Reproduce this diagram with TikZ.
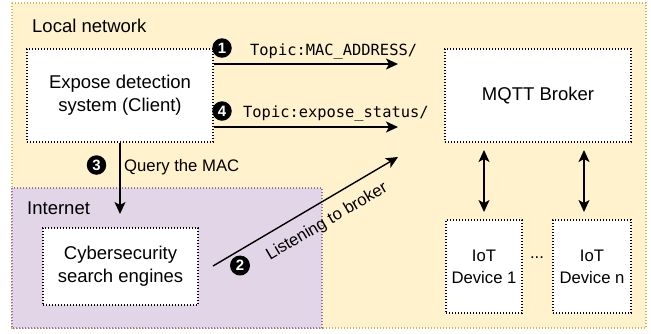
\documentclass[tikz,border=0pt]{standalone}
\usepackage{fontspec}
\setmainfont{Liberation Sans}
\setmonofont{DejaVu Sans Mono}
\usetikzlibrary{arrows.meta,calc}
\definecolor{locfill}{HTML}{FFF2CC}
\definecolor{locdraw}{HTML}{D6B656}
\definecolor{netfill}{HTML}{E1D5E7}
\definecolor{netdraw}{HTML}{9673A6}
\tikzset{
  dotline/.style={line width=1.3pt, dash pattern=on 1.4pt off 1.6pt},
  boxnode/.style={draw=black, fill=white, dotline, align=center, inner sep=0pt,
    font=\fontsize{18.5}{23}\selectfont},
  smallbox/.style={boxnode, font=\fontsize{16.7}{22}\selectfont},
  lbl/.style={inner sep=0pt, anchor=base west},
  arr/.style={line width=1.4pt, -{Stealth[length=12pt, width=11pt, inset=3pt]}},
  darr/.style={line width=1.4pt, {Stealth[length=12pt, width=11pt, inset=3pt]}-{Stealth[length=12pt, width=11pt, inset=3pt]}},
  num/.style={circle, fill=black, text=white, inner sep=0pt, minimum size=19.5pt,
    font=\fontsize{15}{15}\selectfont\bfseries},
  mono/.style={lbl, font=\fontsize{15.4}{18}\ttfamily},
}
\begin{document}
\begin{tikzpicture}[x=1pt, y=-1pt]
\useasboundingbox (0,0) rectangle (651,333);
% regions
\draw[fill=locfill, draw=locdraw, dotline] (12,3) rectangle (646,328);
\draw[fill=netfill, draw=netdraw, dotline] (12,188) rectangle (322,328);
\node[lbl, font=\fontsize{18.5}{22}\selectfont] (loclbl) at (32,32) {Local network};
\node[lbl, font=\fontsize{18.5}{22}\selectfont] (netlbl) at (27,214) {Internet};
% boxes
\node[boxnode, minimum width=186pt, minimum height=93pt] (client) at (120,95.5) {Expose detection\\system (Client)};
\node[boxnode, minimum width=186pt, minimum height=93pt] (broker) at (538,95.5) {MQTT Broker};
\node[boxnode, minimum width=155pt, minimum height=77pt] (cyber) at (120.5,266.5) {Cybersecurity\\search engines};
\node[smallbox, minimum width=76pt, minimum height=93pt] (iot1) at (484,266.5) {IoT\\Device 1};
\node[smallbox, minimum width=78pt, minimum height=93pt] (iotn) at (592,266.5) {IoT\\Device n};
\node[inner sep=0pt, font=\fontsize{16.7}{20}\selectfont] (dots) at (537,258) {...};
% arrow 1
\coordinate (t1) at (398,64);
\draw[arr] (client.east |- t1) -- (t1);
\node[num] (n1) at (222,48) {1};
\node[mono] (topic1) at (250,55) {Topic:MAC\_ADDRESS/};
% arrow 4
\coordinate (t4) at (398,127);
\draw[arr] (client.east |- t4) -- (t4);
\node[num] (n4) at (222,111) {4};
\node[mono] (topic4) at (243,117) {Topic:expose\_status/};
% arrow 3
\coordinate (q3) at (120,214);
\draw[arr] (client.south) -- (q3);
\node[num] (n3) at (96.5,165) {3};
\node[lbl, font=\fontsize{16.7}{20}\selectfont] (qlbl) at (124,171) {Query the MAC};
% arrow 2
\coordinate (s2) at (213,266);
\coordinate (e2) at (398,157);
\draw[arr] (s2) -- (e2);
\node[num, minimum size=20pt] (n2) at (240,265.5) {2};
\node[inner sep=0pt, rotate=30.5, font=\fontsize{16.7}{20}\selectfont] (llbl) at (327,222) {Listening to broker};
% broker <-> devices
\coordinate (b1) at (484,150);
\coordinate (d1) at (484,212);
\coordinate (bn) at (584,150);
\coordinate (dn) at (584,212);
\draw[darr] (b1) -- (d1);
\draw[darr] (bn) -- (dn);
\end{tikzpicture}
\end{document}
